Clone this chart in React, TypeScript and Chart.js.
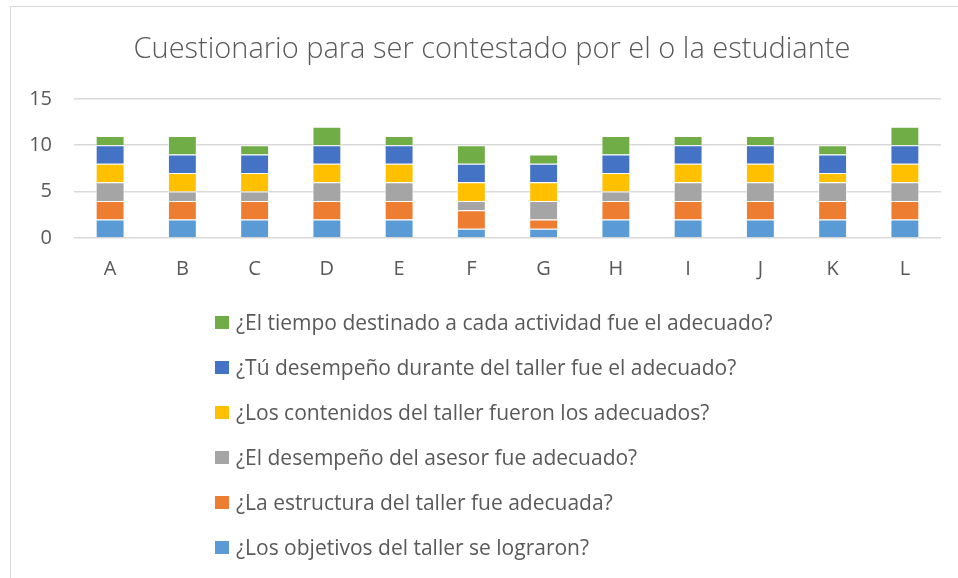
import React, { useEffect, useRef } from "react";
import { Chart, registerables } from "chart.js";

Chart.register(...registerables);

const categories = ["A", "B", "C", "D", "E", "F", "G", "H", "I", "J", "K", "L"];

const objetivos = [2, 2, 2, 2, 2, 1, 1, 2, 2, 2, 2, 2];
const estructura = [2, 2, 2, 2, 2, 2, 1, 2, 2, 2, 2, 2];
const asesor = [2, 1, 1, 2, 2, 1, 2, 1, 2, 2, 2, 2];
const contenidos = [2, 2, 2, 2, 2, 2, 2, 2, 2, 2, 1, 2];
const tuDesempeno = [2, 2, 2, 2, 2, 2, 2, 2, 2, 2, 2, 2];
const tiempo = [1, 2, 1, 2, 1, 2, 1, 2, 1, 1, 1, 2];

const seriesLabels = [
  "¿Los objetivos del taller se lograron?",
  "¿La estructura del taller fue adecuada?",
  "¿El desempeño del asesor fue adecuado?",
  "¿Los contenidos del taller fueron los adecuados?",
  "¿Tú desempeño durante del taller fue el adecuado?",
  "¿El tiempo destinado a cada actividad fue el adecuado?",
];
const seriesColors = ["#5B9BD5", "#ED7D31", "#A5A5A5", "#FFC000", "#4472C4", "#70AD47"];
const seriesValues = [objetivos, estructura, asesor, contenidos, tuDesempeno, tiempo];

const yTicks = [0, 5, 10, 15];
const title = "Cuestionario para ser contestado por el o la estudiante";

const TEXT = "#595959";
const FONT = "'Open Sans', 'Liberation Sans', sans-serif";

const verticalLegend = {
  id: "verticalLegend",
  afterDraw(chart: any) {
    const ctx = chart.ctx;
    const ds = chart.data.datasets;
    const x0 = 204;
    const y0 = 316;
    const step = 45;
    ctx.save();
    ctx.font = `21px ${FONT}`;
    ctx.textBaseline = "middle";
    ctx.textAlign = "left";
    for (let i = 0; i < ds.length; i++) {
      const d = ds[ds.length - 1 - i];
      const y = y0 + i * step;
      ctx.fillStyle = d.backgroundColor;
      ctx.fillRect(x0, y - 7, 14, 13);
      ctx.fillStyle = TEXT;
      ctx.fillText(d.label, x0 + 21, y + 1);
    }
    ctx.restore();
  },
};

export default function App() {
  const ref = useRef<HTMLCanvasElement>(null);

  useEffect(() => {
    document.body.style.margin = "0";
    document.body.style.overflow = "hidden";
    const chart = new Chart(ref.current!, {
      type: "bar",
      data: {
        labels: categories,
        datasets: seriesValues.map((vals, i) => ({
          label: seriesLabels[i],
          data: vals,
          backgroundColor: seriesColors[i],
          borderColor: "rgba(255,255,255,0.7)",
          borderWidth: 1,
          barPercentage: 0.4,
          categoryPercentage: 1,
        })),
      },
      options: {
        animation: false,
        responsive: false,
        maintainAspectRatio: false,
        layout: { padding: { top: 15, left: 18, right: 18, bottom: 315 } },
        plugins: {
          legend: { display: false },
          tooltip: { enabled: false },
          title: {
            display: true,
            text: title,
            color: TEXT,
            font: { family: FONT, size: 29, weight: "300" as any },
            padding: { top: 10, bottom: 32 },
          },
        },
        scales: {
          x: {
            stacked: true,
            grid: { display: false },
            border: { display: false },
            ticks: { color: TEXT, font: { family: FONT, size: 20 }, padding: 11 },
          },
          y: {
            stacked: true,
            min: 0,
            max: 15,
            afterBuildTicks: (axis: any) => {
              axis.ticks = yTicks.map((v) => ({ value: v }));
            },
            afterFit: (axis: any) => {
              axis.width = 45;
            },
            grid: { color: "#D9D9D9", lineWidth: 1.5, drawTicks: false },
            border: { display: false },
            ticks: { color: TEXT, font: { family: FONT, size: 20 }, padding: 22 },
          },
          spacer: {
            type: "linear",
            position: "right",
            display: true,
            grid: { display: false },
            border: { display: false },
            ticks: { display: false },
            afterFit: (axis: any) => {
              axis.width = 14;
            },
          },
        },
      },
      plugins: [verticalLegend],
    });
    return () => chart.destroy();
  }, []);

  return (
    <div
      style={{
        position: "absolute",
        left: 10,
        top: 6,
        borderTop: "1px solid #D9D9D9",
        borderLeft: "1px solid #D9D9D9",
        background: "#fff",
      }}
    >
      <canvas ref={ref} width={962} height={600} style={{ display: "block" }} />
    </div>
  );
}
